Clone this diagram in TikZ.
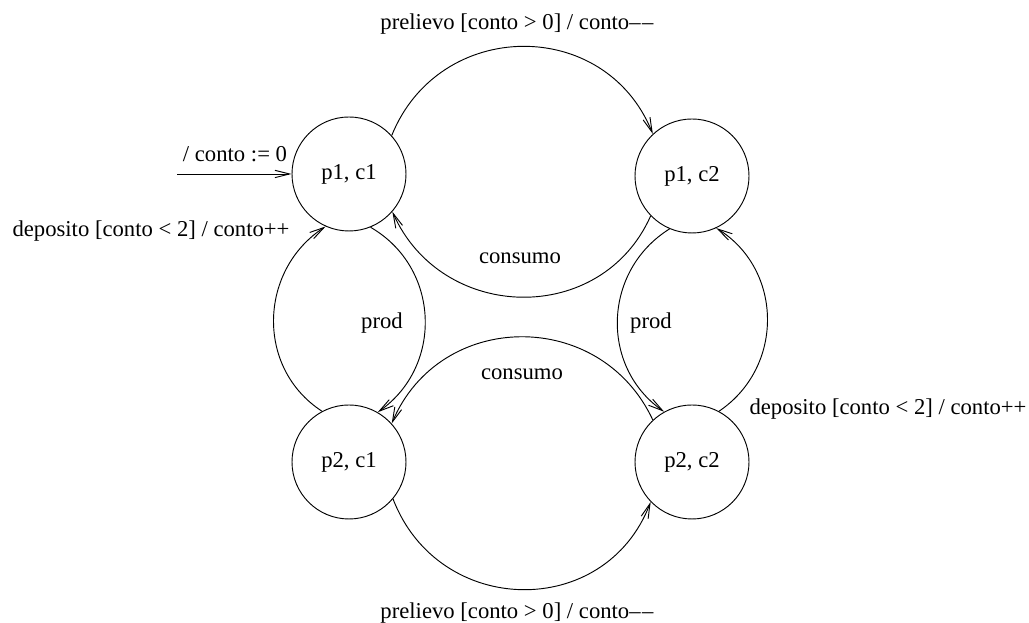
\documentclass[tikz,border=0pt]{standalone}
\usepackage{fontspec}
\setmainfont{Liberation Serif}
\usetikzlibrary{arrows.meta}

\begin{document}
\begin{tikzpicture}[
		x=0.75pt, y=0.75pt,
		font=\fontsize{17}{20}\selectfont,
		% State styles
		state/.style={draw, circle, minimum size=85.5pt, inner sep=0pt, line width=0.7pt},
		% Transition styles
		trans/.style={-{Straight Barb[length=11pt, width=5.5pt]}, line width=0.7pt},
		lbl/.style={inner sep=0pt}
		]
		\useasboundingbox (0,0) rectangle (1029,623);
		
		% --- STATES ---
		\node[state] (p1c1) at (349,449) {p1, c1};
		\node[state] (p1c2) at (692,447) {p1, c2};
		\node[state] (p2c1) at (349,161) {p2, c1};
		\node[state] (p2c2) at (692,161) {p2, c2};
		\coordinate (init) at (177,449);
		
		% --- TRANSITIONS ---
		\draw[trans] (init) -- (p1c1.west);
		\draw[trans] (p1c1.42) to[out=68, in=112, looseness=1.24] (p1c2.133);
		\draw[trans] (p1c2.224) to[out=-114, in=-66, looseness=1.2] (p1c1.-41);
		\draw[trans] (p2c1.118) to[out=147, in=213, looseness=1.1] (p1c1.246);
		\draw[trans] (p1c1.-68) to[out=-30, in=35, looseness=1.11] (p2c1.60);
		\draw[trans] (p2c2.133) to[out=115, in=67, looseness=1.21] (p2c1.42);
		\draw[trans] (p1c2.-113) to[out=-148, in=145, looseness=1.1] (p2c2.119);
		\draw[trans] (p2c2.62) to[out=34, in=-32, looseness=1.1] (p1c2.-65);
		\draw[trans] (p2c1.-40) to[out=-69, in=-111, looseness=1.26] (p2c2.-136);
		
		% --- LABELS ---
		\node[lbl] (lInit) at (235,469) {/ conto := 0};
		\node[lbl] (lPrelTop) at (517,599) {prelievo [conto > 0] / conto–\kern1.2pt–};
		\node[lbl] (lConsTop) at (520,365) {consumo};
		\node[lbl] (lDepLeft) at (151,392) {deposito [conto < 2] / conto++};
		\node[lbl] (lProdLeft) at (382,300) {prod};
		\node[lbl] (lProdRight) at (651,300) {prod};
		\node[lbl] (lConsBot) at (522,249) {consumo};
		\node[lbl] (lDepRight) at (888,214) {deposito [conto < 2] / conto++};
		\node[lbl] (lPrelBot) at (517,10) {prelievo [conto > 0] / conto–\kern1.2pt–};
		
	\end{tikzpicture}
\end{document}
